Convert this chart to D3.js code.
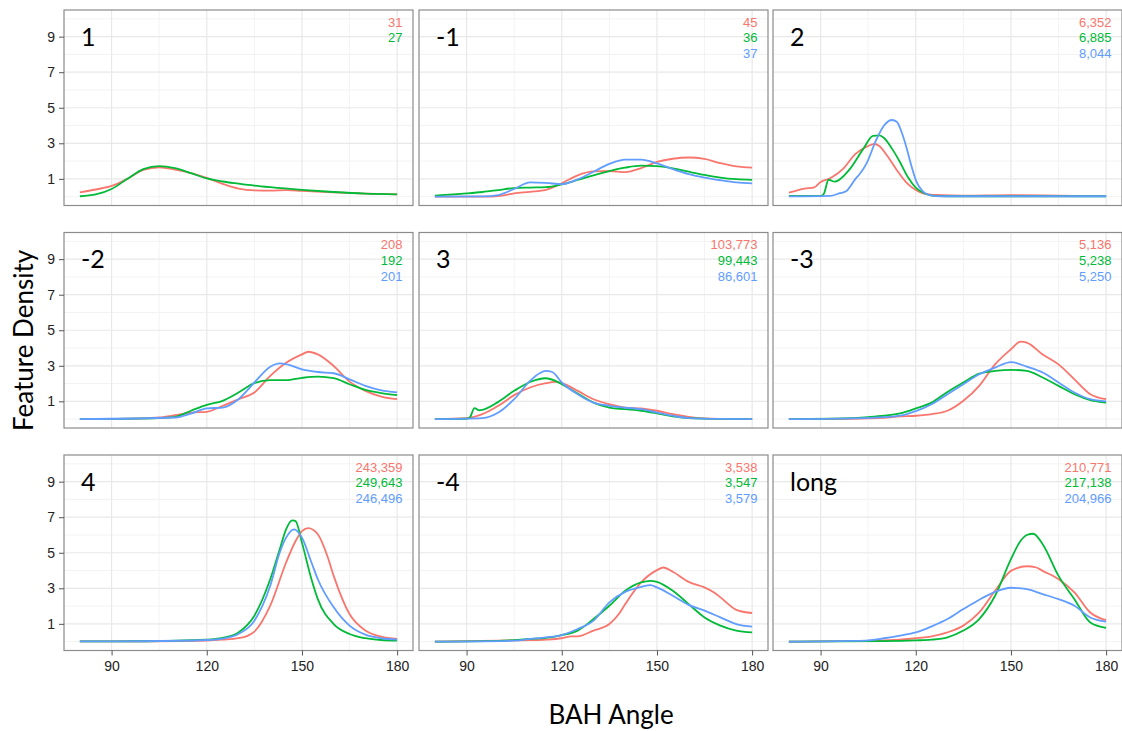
<!DOCTYPE html>
<html>
<head>
<meta charset="utf-8">
<script src="https://cdn.jsdelivr.net/npm/d3@7"></script>
<style>
  html, body { margin: 0; padding: 0; background: #fff; }
  svg { display: block; }
</style>
</head>
<body>
<svg id="chart" width="1122" height="731"></svg>
<script>
// ---------- data ----------
const panelLabels = ["1", "-1", "2", "-2", "3", "-3", "4", "-4", "long"];
const countsRed   = [31, 45, 6352, 208, 103773, 5136, 243359, 3538, 210771];
const countsGreen = [27, 36, 6885, 192, 99443, 5238, 249643, 3547, 217138];
const countsBlue  = [null, 37, 8044, 201, 86601, 5250, 246496, 3579, 204966];
const xTicks = [90, 120, 150, 180];
const yTicks = [1, 3, 5, 7, 9];
const seriesColors = ["#F8766D", "#00BA38", "#619CFF"];

// [BAH angle, density]
const red_1 = [[80,0.24],[85,0.40],[90,0.60],[95,1.0],[100,1.5],[105,1.65],[110,1.52],[115,1.32],[120,1.05],[125,0.72],[130,0.45],[135,0.35],[140,0.34],[145,0.36],[150,0.32],[160,0.24],[170,0.17],[180,0.13]];
const green_1 = [[80,0.02],[85,0.12],[90,0.43],[95,1.0],[100,1.55],[105,1.72],[110,1.6],[115,1.32],[120,1.02],[125,0.85],[130,0.73],[135,0.62],[140,0.53],[150,0.38],[160,0.26],[170,0.17],[180,0.13]];
const blue_1 = null;

const red_2 = [[80,0],[95,0],[100,0.03],[105,0.18],[110,0.27],[115,0.38],[120,0.75],[125,1.2],[130,1.42],[135,1.44],[140,1.38],[145,1.6],[150,1.95],[155,2.13],[160,2.2],[165,2.12],[170,1.88],[175,1.7],[180,1.63]];
const green_2 = [[80,0.06],[90,0.18],[95,0.26],[100,0.37],[105,0.48],[110,0.51],[115,0.53],[120,0.69],[125,0.94],[130,1.2],[135,1.44],[140,1.63],[145,1.74],[150,1.72],[155,1.59],[160,1.4],[165,1.22],[170,1.07],[175,0.98],[180,0.94]];
const blue_2 = [[80,0],[95,0.01],[100,0.09],[105,0.43],[110,0.8],[115,0.77],[120,0.7],[125,0.97],[130,1.4],[135,1.84],[140,2.08],[145,2.08],[150,1.87],[155,1.55],[160,1.27],[165,1.07],[170,0.92],[175,0.8],[180,0.75]];

const red_3 = [[80,0.22],[85,0.45],[88,0.52],[90,0.82],[93,1.03],[97,1.55],[101,2.4],[105,2.85],[107,2.96],[108.5,2.85],[111,2.3],[114,1.5],[117,0.8],[120,0.37],[122.5,0.17],[126.5,0.09],[135,0.05],[150,0.08],[160,0.07],[170,0.04],[180,0.03]];
const green_3 = [[80,0.04],[90,0.04],[91,0.15],[92.5,0.95],[94.5,0.84],[99,1.5],[103.5,2.7],[106.5,3.42],[108.5,3.45],[110,3.3],[112.5,2.7],[115,1.95],[117.5,1.1],[120,0.5],[122.5,0.2],[125,0.06],[130,0.02],[180,0.02]];
const blue_3 = [[80,0.01],[93,0.04],[96,0.19],[98,0.3],[101,1.0],[102.5,1.31],[104.5,1.87],[107.5,3.18],[110,4.0],[112.5,4.31],[114,4.21],[115.5,3.65],[117,2.81],[118.7,1.68],[120.2,0.84],[122.3,0.28],[124.4,0.09],[128,0.02],[180,0.02]];

const red_4 = [[80,0],[100,0.04],[105,0.09],[110,0.22],[115,0.37],[120,0.41],[125,0.75],[130,1.12],[135,1.5],[140,2.43],[145,3.17],[150,3.64],[152,3.79],[155,3.64],[160,2.99],[165,2.11],[170,1.59],[175,1.27],[180,1.12]];
const green_4 = [[80,0],[105,0.06],[110,0.13],[115,0.47],[120,0.8],[125,1.03],[130,1.5],[135,2.02],[140,2.19],[145,2.19],[150,2.32],[155,2.39],[160,2.3],[165,1.96],[170,1.64],[175,1.46],[180,1.35]];
const blue_4 = [[80,0],[110,0.09],[115,0.31],[120,0.6],[125,0.65],[130,1.12],[135,2.06],[140,2.95],[143,3.14],[145,3.1],[150,2.8],[155,2.65],[160,2.58],[165,2.24],[170,1.87],[175,1.62],[180,1.5]];

const red_5 = [[80,0],[90,0.06],[95,0.28],[100,0.75],[105,1.35],[110,1.78],[115,2.02],[118,2.09],[120,2.02],[125,1.59],[130,1.12],[135,0.84],[140,0.65],[145,0.6],[150,0.47],[155,0.28],[160,0.13],[165,0.04],[170,0.01],[180,0]];
const green_5 = [[80,0],[90,0.02],[91,0.09],[92.5,0.62],[94,0.5],[95,0.52],[100,0.97],[105,1.59],[110,2.09],[115,2.3],[118,2.15],[120,1.96],[125,1.44],[130,0.93],[135,0.65],[140,0.56],[145,0.47],[150,0.32],[155,0.15],[160,0.06],[170,0.01],[180,0]];
const blue_5 = [[80,0],[95,0.06],[100,0.37],[105,1.12],[110,2.15],[113,2.58],[115,2.71],[117,2.65],[120,2.06],[125,1.4],[130,0.93],[135,0.75],[140,0.64],[145,0.56],[150,0.37],[155,0.19],[160,0.06],[170,0.01],[180,0]];

const red_6 = [[80,0],[100,0.02],[110,0.07],[115,0.15],[120,0.19],[125,0.28],[130,0.47],[135,1.03],[140,1.87],[145,3.08],[150,3.93],[153,4.36],[155,4.3],[160,3.64],[165,3.08],[170,2.24],[175,1.4],[180,1.12]];
const green_6 = [[80,0],[100,0.05],[105,0.11],[110,0.19],[115,0.32],[120,0.6],[125,0.93],[130,1.53],[135,2.06],[140,2.56],[145,2.71],[150,2.77],[155,2.71],[160,2.34],[165,1.87],[170,1.4],[175,1.07],[180,0.93]];
const blue_6 = [[80,0],[100,0.04],[110,0.11],[115,0.19],[120,0.45],[125,0.84],[130,1.4],[135,1.96],[140,2.52],[145,2.9],[150,3.21],[155,2.95],[160,2.62],[165,2.06],[170,1.5],[175,1.12],[180,1.0]];

const red_7 = [[80,0.01],[100,0.02],[120,0.06],[125,0.11],[130,0.19],[133,0.34],[135,0.56],[140,2.02],[145,4.45],[148,5.66],[150,6.22],[152,6.39],[155,6.04],[158,4.82],[160,3.7],[165,1.55],[170,0.62],[175,0.28],[180,0.15]];
const green_7 = [[80,0.01],[100,0.02],[120,0.11],[125,0.21],[130,0.52],[135,1.46],[140,3.51],[143,5.2],[145,6.32],[147,6.82],[148,6.78],[150,5.57],[153,3.51],[155,2.39],[160,0.99],[165,0.43],[170,0.19],[175,0.09],[180,0.06]];
const blue_7 = [[80,0.01],[100,0.02],[120,0.09],[125,0.17],[130,0.43],[135,1.18],[140,3.14],[143,5.01],[145,5.85],[147.5,6.32],[150,5.85],[153,4.45],[155,3.51],[160,1.93],[165,0.9],[170,0.39],[175,0.19],[180,0.11]];

const red_8 = [[80,0],[100,0.06],[110,0.08],[115,0.11],[120,0.19],[123,0.3],[125,0.3],[130,0.62],[135,0.99],[138,1.55],[140,2.11],[145,3.33],[150,4.02],[152,4.17],[155,3.93],[160,3.36],[165,3.05],[168,2.77],[170,2.49],[175,1.79],[180,1.61]];
const green_8 = [[80,0],[100,0.04],[110,0.15],[115,0.21],[120,0.37],[125,0.62],[130,1.27],[135,2.02],[140,2.86],[145,3.33],[148,3.42],[150,3.36],[155,2.86],[160,2.11],[165,1.36],[170,0.9],[175,0.62],[180,0.52]];
const blue_8 = [[80,0],[105,0.05],[110,0.15],[115,0.24],[120,0.37],[125,0.71],[130,1.18],[135,2.21],[140,2.8],[145,3.08],[148,3.18],[150,3.05],[155,2.58],[160,2.07],[165,1.74],[170,1.36],[175,0.99],[180,0.84]];

const red_9 = [[80,0],[110,0.07],[120,0.19],[125,0.3],[130,0.52],[135,0.9],[140,1.64],[145,2.86],[150,3.98],[155,4.24],[158,4.17],[160,3.98],[165,3.51],[170,2.77],[175,1.64],[180,1.21]];
const green_9 = [[80,0],[110,0.03],[120,0.07],[125,0.11],[130,0.24],[135,0.62],[140,1.27],[145,2.58],[150,4.64],[153,5.66],[155,6.0],[157,6.07],[160,5.48],[165,3.7],[170,2.39],[175,1.08],[180,0.77]];
const blue_9 = [[80,0],[100,0.04],[105,0.07],[110,0.19],[115,0.34],[120,0.52],[125,0.86],[130,1.27],[135,1.83],[140,2.36],[145,2.8],[150,3.03],[155,2.95],[160,2.67],[165,2.39],[170,2.02],[175,1.36],[180,1.12]];

const panelSeries = [
  [red_1, green_1, blue_1], [red_2, green_2, blue_2], [red_3, green_3, blue_3],
  [red_4, green_4, blue_4], [red_5, green_5, blue_5], [red_6, green_6, blue_6],
  [red_7, green_7, blue_7], [red_8, green_8, blue_8], [red_9, green_9, blue_9]
];

// ---------- layout ----------
const colX = [64, 419, 773];
const rowY = [10, 232.5, 455];
const PW = 349, PH = 195.5;

const svg = d3.select("#chart");
const x = d3.scaleLinear().domain([75, 185]).range([0, PW]);
const y = d3.scaleLinear().domain([-0.5, 10.5]).range([PH, 0]);
const fmt = d3.format(",");
const line = d3.line().x(d => x(d[0])).y(d => y(d[1])).curve(d3.curveMonotoneX);

const minorX = [75, 105, 135, 165];
const minorY = [0, 2, 4, 6, 8, 10];

panelLabels.forEach((lab, i) => {
  const r = Math.floor(i / 3), c = i % 3;
  const g = svg.append("g").attr("transform", `translate(${colX[c]},${rowY[r]})`);
  const clipId = "clip" + i;
  g.append("clipPath").attr("id", clipId).append("rect").attr("width", PW).attr("height", PH);

  g.append("rect").attr("width", PW).attr("height", PH).attr("fill", "#fff");
  const grid = g.append("g").attr("clip-path", `url(#${clipId})`);
  grid.selectAll(".mx").data(minorX).join("line")
    .attr("x1", d => x(d)).attr("x2", d => x(d)).attr("y1", 0).attr("y2", PH)
    .attr("stroke", "#f3f3f3").attr("stroke-width", 1);
  grid.selectAll(".my").data(minorY).join("line")
    .attr("y1", d => y(d)).attr("y2", d => y(d)).attr("x1", 0).attr("x2", PW)
    .attr("stroke", "#f3f3f3").attr("stroke-width", 1);
  grid.selectAll(".Mx").data(xTicks).join("line")
    .attr("x1", d => x(d)).attr("x2", d => x(d)).attr("y1", 0).attr("y2", PH)
    .attr("stroke", "#e8e8e8").attr("stroke-width", 1.2);
  grid.selectAll(".My").data(yTicks).join("line")
    .attr("y1", d => y(d)).attr("y2", d => y(d)).attr("x1", 0).attr("x2", PW)
    .attr("stroke", "#e8e8e8").attr("stroke-width", 1.2);

  const lines = g.append("g").attr("clip-path", `url(#${clipId})`);
  panelSeries[i].forEach((s, k) => {
    if (!s) return;
    lines.append("path").datum(s).attr("d", line)
      .attr("fill", "none").attr("stroke", seriesColors[k]).attr("stroke-width", 1.8)
      .attr("stroke-linejoin", "round");
  });

  g.append("rect").attr("width", PW).attr("height", PH)
    .attr("fill", "none").attr("stroke", "#8c8c8c").attr("stroke-width", 1.2);

  g.append("text").attr("x", 17).attr("y", 35.7)
    .attr("font-family", "Lato, 'Open Sans', sans-serif").attr("font-size", 25)
    .attr("fill", "#000").text(lab);

  const counts = [countsRed[i], countsGreen[i], countsBlue[i]];
  counts.forEach((v, k) => {
    if (v == null) return;
    g.append("text").attr("x", PW - 10.5).attr("y", 16.7 + k * 15.7)
      .attr("text-anchor", "end")
      .attr("font-family", "'Liberation Sans', Arial, sans-serif").attr("font-size", 13)
      .attr("fill", seriesColors[k]).text(fmt(v));
  });

  if (c === 0) {
    const ay = g.append("g").call(d3.axisLeft(y).tickValues(yTicks).tickSize(5).tickPadding(4));
    ay.select(".domain").remove();
    ay.selectAll(".tick line").attr("stroke", "#555");
    ay.selectAll(".tick text").attr("font-family", "'Liberation Sans', Arial, sans-serif")
      .attr("font-size", 14).attr("fill", "#222");
  }
  if (r === 2) {
    const ax = g.append("g").attr("transform", `translate(0,${PH})`)
      .call(d3.axisBottom(x).tickValues(xTicks).tickSize(5).tickPadding(6));
    ax.select(".domain").remove();
    ax.selectAll(".tick line").attr("stroke", "#555");
    ax.selectAll(".tick text").attr("font-family", "'Liberation Sans', Arial, sans-serif")
      .attr("font-size", 14).attr("fill", "#222");
  }
});

svg.append("text").attr("x", 611).attr("y", 724).attr("text-anchor", "middle")
  .attr("font-family", "Lato, 'Open Sans', sans-serif").attr("font-size", 26)
  .attr("fill", "#000").text("BAH Angle");

svg.append("text").attr("transform", "translate(33,340.5) rotate(-90)").attr("text-anchor", "middle")
  .attr("font-family", "Lato, 'Open Sans', sans-serif").attr("font-size", 26)
  .attr("fill", "#000").text("Feature Density");
</script>
</body>
</html>
